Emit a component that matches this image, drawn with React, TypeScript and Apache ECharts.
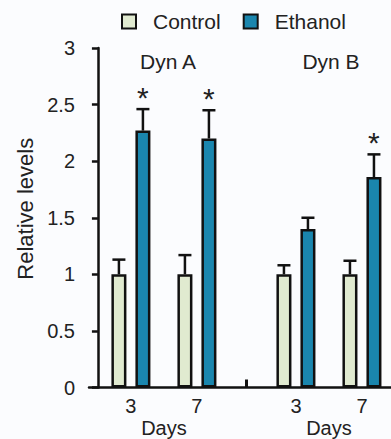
import React, { useEffect, useRef } from "react";
import * as echarts from "echarts";

// ---- data ----
const groups = ["Dyn A", "Dyn B"];
const dayLabels = ["3", "7", "3", "7"];
const slots = [1, 3, 6, 8]; // slot index of each day on the x axis
const groupSlots = [2, 7];
const dividerSlot = [4.5];
const controlMean = [1.0, 1.0, 1.0, 1.0];
const controlErr = [0.13, 0.17, 0.08, 0.12];
const ethanolMean = [2.27, 2.2, 1.4, 1.86];
const ethanolErr = [0.19, 0.25, 0.1, 0.2];
const ethanolSig = [1, 1, 0, 1];
const yTicks = [0, 0.5, 1, 1.5, 2, 2.5, 3];

const FONT = "'Liberation Sans', Arial, sans-serif";
const TXT = "#222";
const CONTROL_COLOR = "#e0ead0";
const ETHANOL_COLOR = "#1a86ae";
const BAR_OFFSET = 12;
const STROKE = 2.5;

function errRender(offset: number) {
  return (params: any, api: any) => {
    const x = api.value(0);
    const m = api.value(1);
    const e = api.value(2);
    const sig = api.value(3);
    const p0 = api.coord([x, m]);
    const p1 = api.coord([x, m + e]);
    const cx = p0[0] + offset;
    const children: any[] = [
      {
        type: "line",
        shape: { x1: cx, y1: p0[1], x2: cx, y2: p1[1] },
        style: { stroke: "#111", lineWidth: STROKE },
      },
      {
        type: "line",
        shape: { x1: cx - 6.5, y1: p1[1], x2: cx + 6.5, y2: p1[1] },
        style: { stroke: "#111", lineWidth: STROKE },
      },
    ];
    if (sig) {
      children.push({
        type: "text",
        x: cx,
        y: p1[1] + 3,
        style: {
          text: "*",
          fontSize: 30,
          fontFamily: FONT,
          fill: TXT,
          align: "center",
          verticalAlign: "bottom",
        },
      });
    }
    return { type: "group", children };
  };
}

export default function App() {
  const ref = useRef<HTMLDivElement>(null);
  useEffect(() => {
    if (!ref.current) return;
    const chart = echarts.init(ref.current, undefined, { renderer: "svg" });
    const option: any = {
      animation: false,
      backgroundColor: "#fbfcfe",
      textStyle: { fontFamily: FONT, color: TXT },
      legend: {
        left: 116,
        top: 6,
        icon: "rect",
        itemWidth: 14,
        itemHeight: 14,
        itemGap: 22,
        data: ["Control", "Ethanol"],
        formatter: (name: string) => `{p|${name}}`,
        textStyle: {
          fontSize: 21,
          color: TXT,
          fontFamily: FONT,
          rich: { p: { fontSize: 21, fontFamily: FONT, color: TXT, padding: [0, 0, 0, 12] } },
        },
      },
      grid: { left: 89, top: 48, width: 302, height: 339.5 },
      xAxis: [
        {
          type: "value",
          min: -0.27,
          max: 8.88,
          axisLine: { show: true, lineStyle: { color: "#111", width: STROKE } },
          axisTick: {
            show: true,
            inside: true,
            length: 8,
            customValues: dividerSlot,
            lineStyle: { color: "#111", width: 3 },
          },
          axisLabel: {
            customValues: slots,
            formatter: (v: number) => dayLabels[slots.indexOf(v)] ?? "",
            fontSize: 20,
            color: TXT,
            margin: 8,
            fontFamily: FONT,
          },
          splitLine: { show: false },
        },
        {
          type: "value",
          position: "bottom",
          min: -0.27,
          max: 8.88,
          axisLine: { show: false },
          axisTick: { show: false },
          axisLabel: {
            customValues: groupSlots,
            formatter: () => "Days",
            fontSize: 20,
            color: TXT,
            margin: 30,
            fontFamily: FONT,
          },
          splitLine: { show: false },
        },
      ],
      yAxis: {
        type: "value",
        min: 0,
        max: 3,
        interval: 0.5,
        name: "Relative levels",
        nameLocation: "middle",
        nameGap: 52,
        nameTextStyle: { fontSize: 22, color: TXT, fontFamily: FONT, padding: [0, 0, 0, 18] },
        axisLine: { show: true, lineStyle: { color: "#111", width: STROKE } },
        axisTick: { show: true, length: 6, lineStyle: { color: "#111", width: STROKE } },
        axisLabel: {
          fontSize: 20,
          color: TXT,
          margin: 14,
          fontFamily: FONT,
          customValues: yTicks,
        },
        splitLine: { show: false },
      },
      graphic: [
        {
          type: "text",
          x: 168,
          y: 61,
          style: { text: groups[0], fontSize: 21, fontFamily: FONT, fill: TXT, align: "center", verticalAlign: "middle" },
        },
        {
          type: "text",
          x: 331,
          y: 61,
          style: { text: groups[1], fontSize: 21, fontFamily: FONT, fill: TXT, align: "center", verticalAlign: "middle" },
        },
      ],
      series: [
        {
          name: "Control",
          type: "bar",
          barWidth: 15,
          barGap: "60%",
          itemStyle: { color: CONTROL_COLOR, borderColor: "#111", borderWidth: STROKE },
          data: slots.map((s, i) => [s, controlMean[i]]),
        },
        {
          name: "Ethanol",
          type: "bar",
          barWidth: 15,
          barGap: "60%",
          itemStyle: { color: ETHANOL_COLOR, borderColor: "#111", borderWidth: STROKE },
          data: slots.map((s, i) => [s, ethanolMean[i]]),
        },
        {
          type: "custom",
          name: "ctrlErr",
          renderItem: errRender(-BAR_OFFSET),
          data: slots.map((s, i) => [s, controlMean[i], controlErr[i], 0]),
          z: 1,
        },
        {
          type: "custom",
          name: "ethErr",
          renderItem: errRender(BAR_OFFSET),
          data: slots.map((s, i) => [s, ethanolMean[i], ethanolErr[i], ethanolSig[i]]),
          z: 1,
        },
      ],
    };
    chart.setOption(option);
    return () => chart.dispose();
  }, []);
  return (
    <div
      ref={ref}
      style={{ position: "absolute", left: 0, top: 0, width: 391, height: 439 }}
    />
  );
}
